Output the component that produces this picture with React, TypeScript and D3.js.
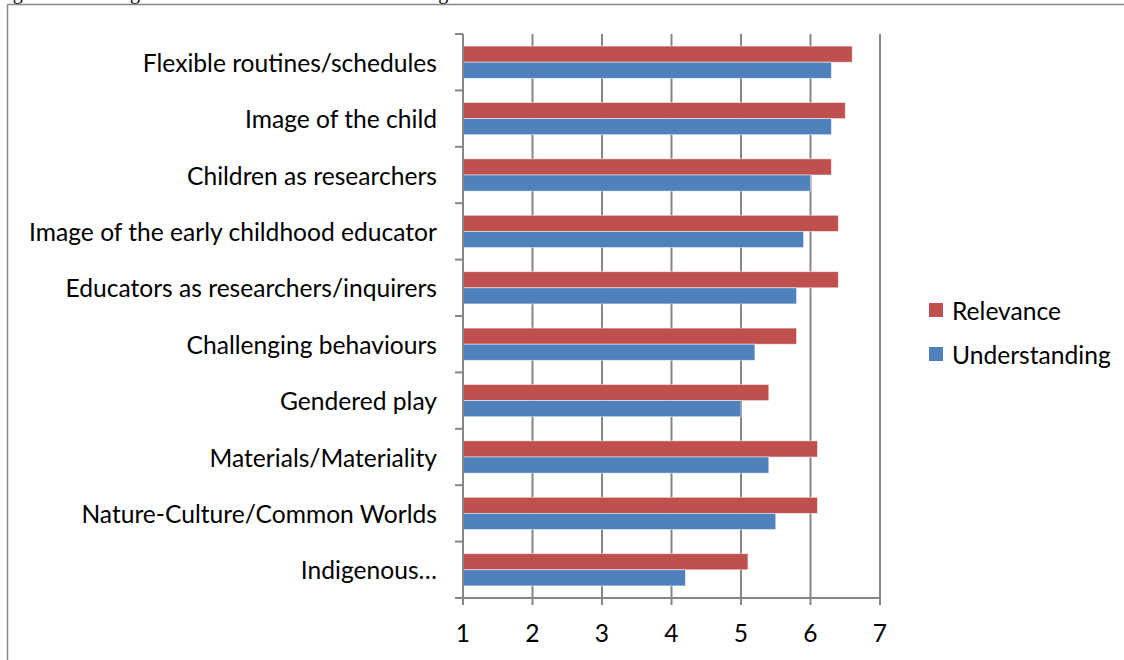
import React from "react";
import * as d3 from "d3";

const caption = "Figure 10: Average relevance and level of understanding";
const categories = [
  "Flexible routines/schedules",
  "Image of the child",
  "Children as researchers",
  "Image of the early childhood educator",
  "Educators as researchers/inquirers",
  "Challenging behaviours",
  "Gendered play",
  "Materials/Materiality",
  "Nature-Culture/Common Worlds",
  "Indigenous…",
];
const relevance = [6.6, 6.5, 6.3, 6.4, 6.4, 5.8, 5.4, 6.1, 6.1, 5.1];
const understanding = [6.3, 6.3, 6.0, 5.9, 5.8, 5.2, 5.0, 5.4, 5.5, 4.2];
const xTicks = [1, 2, 3, 4, 5, 6, 7];
const seriesNames = ["Relevance", "Understanding"];
const seriesColors = ["#C0504D", "#4F81BD"];

const W = 1124;
const H = 660;
const FONT = "Lato, 'Open Sans', sans-serif";
const FS = 24.6;

export default function App() {
  const left = 463, right = 880, top = 34, bottom = 598;
  const x = d3.scaleLinear().domain([1, 7]).range([left, right]);
  const y = d3.scaleBand<string>().domain(categories).range([top, bottom]).paddingInner(0).paddingOuter(0);
  const band = y.bandwidth();
  const barH = band / 3.5;
  const series = [relevance, understanding];
  const tickYs = d3.range(categories.length + 1).map((i) => top + i * band);

  return (
    <div style={{ position: "absolute", left: 0, top: 0, width: W, height: H, overflow: "hidden", background: "#fff" }}>
      <svg width={W} height={H} style={{ display: "block" }}>
        <rect x={0} y={0} width={W} height={H} fill="#fff" />
        <text x={-4} y={-1.5} fontFamily="'Liberation Serif', serif" fontSize={20} fill="#000">
          {caption}
        </text>
        {/* outer frame */}
        <line x1={7.5} y1={4.5} x2={W} y2={4.5} stroke="#868686" strokeWidth={1.5} />
        <line x1={7.5} y1={4.5} x2={7.5} y2={H} stroke="#868686" strokeWidth={1.5} />
        {/* gridlines */}
        {xTicks.slice(1).map((t) => (
          <line key={"g" + t} x1={x(t)} x2={x(t)} y1={top} y2={bottom} stroke="#868686" strokeWidth={2} />
        ))}
        {/* bars */}
        {categories.map((c, i) => {
          const y0 = (y(c) as number) + (band - 2 * barH) / 2;
          return series.map((s, k) => (
            <rect
              key={c + k}
              x={x(1)}
              y={y0 + k * barH}
              width={x(s[i]) - x(1)}
              height={barH}
              fill={seriesColors[k]}
              stroke="#fff"
              strokeOpacity={0.6}
              strokeWidth={0.8}
            />
          ));
        })}
        {/* y axis */}
        <line x1={left} x2={left} y1={top} y2={bottom} stroke="#868686" strokeWidth={2} />
        {tickYs.map((ty, i) => (
          <line key={"yt" + i} x1={455} x2={left} y1={ty} y2={ty} stroke="#868686" strokeWidth={2} />
        ))}
        {/* x axis */}
        <line x1={455} x2={right} y1={bottom} y2={bottom} stroke="#868686" strokeWidth={2} />
        {xTicks.map((t) => (
          <line key={"xt" + t} x1={x(t)} x2={x(t)} y1={bottom} y2={605} stroke="#868686" strokeWidth={2} />
        ))}
        {xTicks.map((t) => (
          <text key={"xl" + t} x={x(t)} y={632} textAnchor="middle" dominantBaseline="central" fontFamily={FONT} fontSize={FS} fill="#000">
            {t}
          </text>
        ))}
        {categories.map((c) => (
          <text key={"yl" + c} x={437} y={(y(c) as number) + band / 2} textAnchor="end" dominantBaseline="central" fontFamily={FONT} fontSize={FS} fill="#000">
            {c}
          </text>
        ))}
        {/* legend */}
        {seriesNames.map((n, k) => (
          <g key={n}>
            <rect x={929} y={303 + k * 44} width={14} height={14} fill={seriesColors[k]} />
            <text x={952} y={310 + k * 44} dominantBaseline="central" fontFamily={FONT} fontSize={FS} fill="#000">
              {n}
            </text>
          </g>
        ))}
      </svg>
    </div>
  );
}
